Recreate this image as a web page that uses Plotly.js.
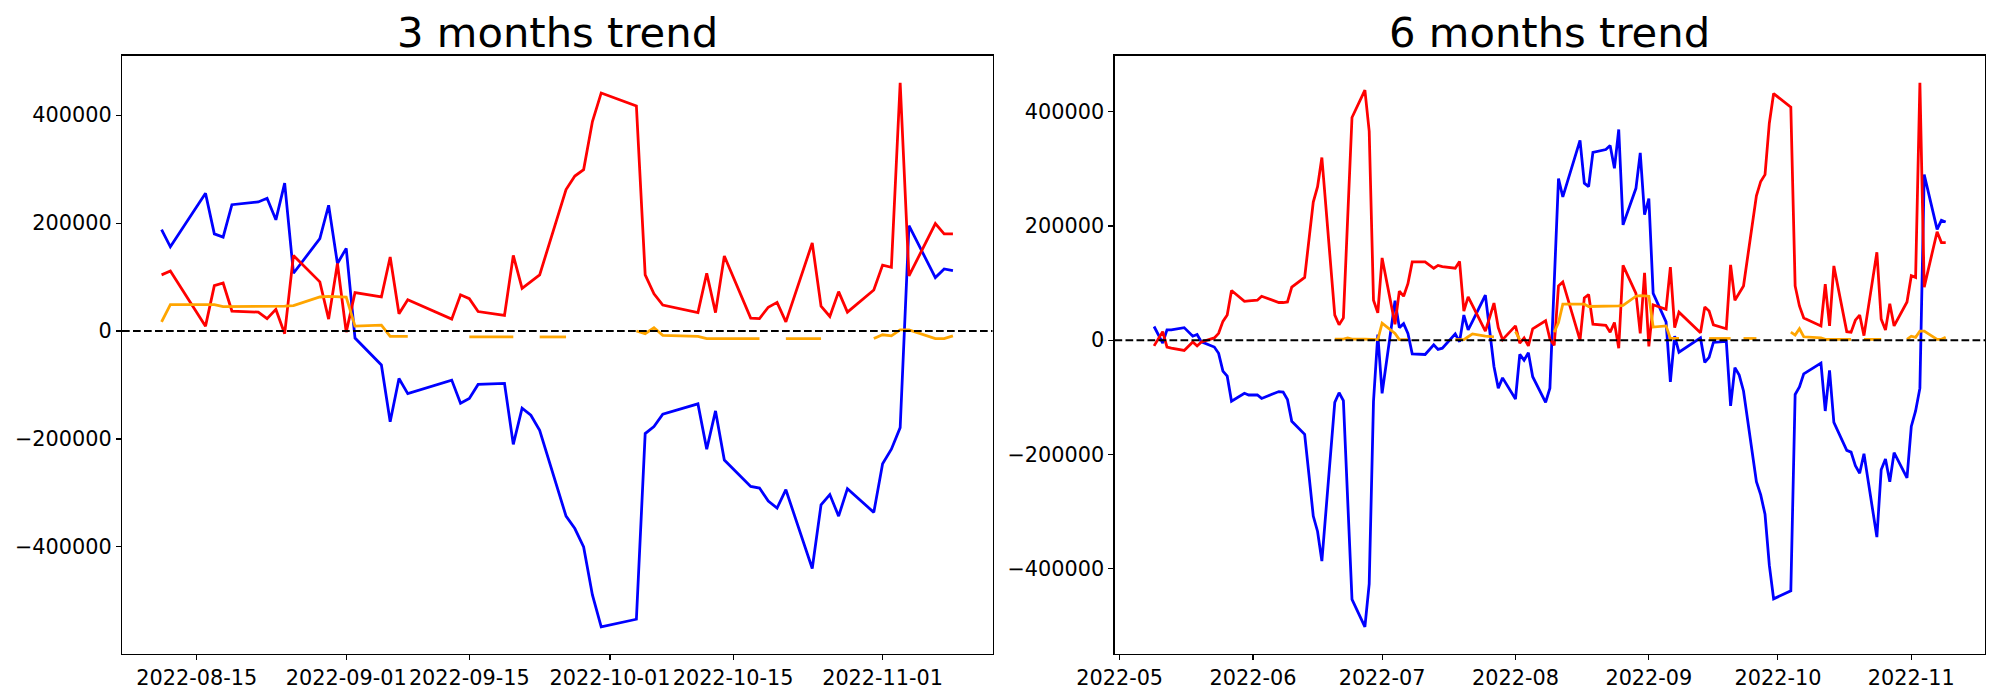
<!DOCTYPE html>
<html><head><meta charset="utf-8">
<script src="https://cdn.plot.ly/plotly-3.0.1.min.js"></script>
<style>html,body{margin:0;padding:0;background:#fff;} #chart{width:2000px;height:700px;}</style>
</head><body><div id="chart"></div>
<script>
// ---------- 3 months trend ----------
const dates3m = [
'2022-08-11','2022-08-12','2022-08-16','2022-08-17','2022-08-18','2022-08-19','2022-08-22','2022-08-23','2022-08-24','2022-08-25','2022-08-26','2022-08-29','2022-08-30','2022-08-31',
'2022-09-01','2022-09-02','2022-09-05','2022-09-06','2022-09-07','2022-09-08','2022-09-13','2022-09-14','2022-09-15','2022-09-16','2022-09-19','2022-09-20','2022-09-21','2022-09-22','2022-09-23','2022-09-26','2022-09-27','2022-09-28','2022-09-29','2022-09-30',
'2022-10-04','2022-10-05','2022-10-06','2022-10-07','2022-10-11','2022-10-12','2022-10-13','2022-10-14','2022-10-17','2022-10-18','2022-10-19','2022-10-20','2022-10-21','2022-10-24','2022-10-25','2022-10-26','2022-10-27','2022-10-28','2022-10-31',
'2022-11-01','2022-11-02','2022-11-03','2022-11-04','2022-11-07','2022-11-08','2022-11-09'];
const blue3m = [
188000,156000,255000,180000,174000,234000,239000,246000,206000,274000,107000,171000,233000,125000,
153000,-13000,-63000,-168000,-88000,-116000,-91000,-134000,-125000,-99000,-97000,-210000,-143000,-156000,-184000,-343000,-366000,-400000,-489000,-548000,
-534000,-190000,-177000,-154000,-135000,-219000,-148000,-239000,-288000,-291000,-315000,-328000,-294000,-440000,-322000,-303000,-343000,-292000,-336000,
-246000,-219000,-179000,195000,99000,115000,112000];
const red3m = [
104000,111000,9000,84000,89000,37000,35000,23000,40000,-5000,140000,91000,22000,125000,
-2000,71000,63000,137000,32000,58000,22000,67000,60000,36000,29000,140000,79000,91000,104000,262000,287000,299000,388000,441000,
417000,104000,69000,48000,34000,107000,34000,139000,24000,23000,44000,53000,17000,163000,46000,27000,73000,35000,76000,
122000,118000,460000,102000,199000,180000,180000];
const orange3m = [
17000,49000,49000,49000,45000,45000,45000,45000,45000,46000,47000,63000,64000,64000,
63000,9000,11000,-10000,-10000,-10000,null,null,-11000,-11000,-11000,-11000,null,null,-11000,-11000,null,null,null,null,
0,-5000,6000,-8000,-10000,-14000,-14000,-14000,-14000,-14000,null,null,-14000,-14000,-14000,null,null,null,-14000,
-7000,-9000,2000,2000,-14000,-14000,-9000];

// ---------- 6 months trend ----------
const dates6m = [
'2022-05-09','2022-05-10','2022-05-11','2022-05-12','2022-05-13','2022-05-16','2022-05-17','2022-05-18','2022-05-19','2022-05-20','2022-05-23','2022-05-24','2022-05-25','2022-05-26','2022-05-27','2022-05-30','2022-05-31',
'2022-06-02','2022-06-03','2022-06-07','2022-06-08','2022-06-09','2022-06-10','2022-06-13','2022-06-14','2022-06-15','2022-06-16','2022-06-17','2022-06-20','2022-06-21','2022-06-22','2022-06-23','2022-06-24','2022-06-27','2022-06-28','2022-06-29','2022-06-30',
'2022-07-01','2022-07-04','2022-07-05','2022-07-06','2022-07-07','2022-07-08','2022-07-11','2022-07-12','2022-07-13','2022-07-14','2022-07-15','2022-07-18','2022-07-19','2022-07-20','2022-07-21','2022-07-22','2022-07-25','2022-07-26','2022-07-27','2022-07-28','2022-07-29',
'2022-08-01','2022-08-02','2022-08-03','2022-08-04','2022-08-05','2022-08-08','2022-08-09','2022-08-10','2022-08-11','2022-08-12','2022-08-16','2022-08-17','2022-08-18','2022-08-19','2022-08-22','2022-08-23','2022-08-24','2022-08-25','2022-08-26','2022-08-29','2022-08-30','2022-08-31',
'2022-09-01','2022-09-02','2022-09-05','2022-09-06','2022-09-07','2022-09-08','2022-09-13','2022-09-14','2022-09-15','2022-09-16','2022-09-19','2022-09-20','2022-09-21','2022-09-22','2022-09-23','2022-09-26','2022-09-27','2022-09-28','2022-09-29','2022-09-30',
'2022-10-04','2022-10-05','2022-10-06','2022-10-07','2022-10-11','2022-10-12','2022-10-13','2022-10-14','2022-10-17','2022-10-18','2022-10-19','2022-10-20','2022-10-21','2022-10-24','2022-10-25','2022-10-26','2022-10-27','2022-10-28','2022-10-31',
'2022-11-01','2022-11-02','2022-11-03','2022-11-04','2022-11-07','2022-11-08','2022-11-09'];
const blue6m = [
24000,9000,-5000,18000,18000,22000,14000,7000,10000,-3000,-12000,-23000,-54000,-63000,-107000,-93000,-96000,
-96000,-102000,-90000,-91000,-104000,-142000,-165000,-236000,-308000,-335000,-387000,-109000,-92000,-106000,-280000,-454000,-502000,-427000,-107000,10000,
-93000,69000,22000,29000,12000,-24000,-25000,-17000,-8000,-16000,-14000,11000,-3000,44000,18000,33000,79000,17000,-46000,-84000,-66000,
-103000,-25000,-35000,-22000,-64000,-109000,-84000,95000,283000,251000,350000,275000,269000,329000,334000,341000,301000,369000,202000,266000,328000,220000,
248000,82000,32000,-73000,7000,-21000,4000,-39000,-30000,-4000,-2000,-115000,-48000,-61000,-89000,-248000,-271000,-305000,-394000,-453000,
-439000,-95000,-82000,-59000,-40000,-124000,-53000,-144000,-193000,-196000,-220000,-233000,-199000,-345000,-227000,-208000,-248000,-197000,-241000,
-151000,-124000,-84000,290000,194000,210000,207000];
const red6m = [
-10000,3000,15000,-12000,-14000,-18000,-10000,-3000,-10000,-3000,4000,12000,33000,44000,87000,68000,69000,
70000,77000,66000,66000,67000,93000,110000,176000,242000,269000,320000,44000,27000,39000,215000,390000,438000,366000,70000,48000,
144000,28000,86000,77000,99000,137000,137000,131000,126000,131000,129000,126000,138000,51000,76000,61000,16000,40000,65000,22000,1000,
25000,-5000,4000,-10000,20000,34000,2000,-9000,95000,102000,0,74000,80000,28000,26000,14000,31000,-14000,131000,82000,12000,118000,
-11000,62000,54000,128000,22000,49000,13000,58000,51000,27000,20000,132000,70000,82000,95000,253000,278000,290000,380000,432000,
408000,95000,60000,39000,25000,98000,25000,130000,15000,14000,35000,44000,8000,154000,37000,18000,64000,25000,67000,
113000,110000,451000,93000,190000,171000,171000];
const orange6m = [
null,null,null,null,null,null,null,null,null,null,null,null,null,null,null,null,null,
null,null,null,null,null,null,null,null,null,null,null,2000,2000,2000,4000,2000,2000,2000,1000,1000,
30000,12000,1000,1000,1000,null,null,null,null,null,null,1000,1000,1000,6000,11000,7000,7000,6000,null,null,
15000,1000,null,null,null,null,null,14000,31000,63000,63000,63000,59000,59000,59000,59000,59000,60000,61000,77000,78000,78000,
77000,23000,25000,3000,3000,3000,null,null,3000,3000,3000,3000,null,null,3000,3000,null,null,null,null,
14000,9000,20000,6000,4000,1500,1500,1500,1500,1500,null,null,1500,1500,1500,null,null,null,1500,
7000,5000,16000,16000,1500,1500,5000];

// ---------- ticks & titles ----------
const xTicks3m = ['2022-08-15','2022-09-01','2022-09-15','2022-10-01','2022-10-15','2022-11-01'];
const xTickText3m = ['2022-08-15','2022-09-01','2022-09-15','2022-10-01','2022-10-15','2022-11-01'];
const xTicks6m = ['2022-05-01','2022-06-01','2022-07-01','2022-08-01','2022-09-01','2022-10-01','2022-11-01'];
const xTickText6m = ['2022-05','2022-06','2022-07','2022-08','2022-09','2022-10','2022-11'];
const yTicks = [-400000,-200000,0,200000,400000];
const yTickText = ['\u2212400000','\u2212200000','0','200000','400000'];
const titles = ['3 months trend','6 months trend'];
const zeroLevel = 0;

const FONT = '"DejaVu Sans", sans-serif';
const LW = 2.78;
function tr(x, y, color, xa, ya) {
  return {type:'scatter', mode:'lines', x:x, y:y, xaxis:xa, yaxis:ya,
    line:{color:color, width:LW}, connectgaps:false, hoverinfo:'skip', showlegend:false};
}
const data = [
  tr(dates3m, blue3m, 'blue', 'x', 'y'),
  tr(dates3m, red3m, 'red', 'x', 'y'),
  tr(dates3m, orange3m, 'orange', 'x', 'y'),
  tr(dates6m, blue6m, 'blue', 'x2', 'y2'),
  tr(dates6m, red6m, 'red', 'x2', 'y2'),
  tr(dates6m, orange6m, 'orange', 'x2', 'y2')
];
const ax = {showline:true, mirror:true, linecolor:'black', linewidth:1.1, ticks:'outside', ticklen:5,
  tickwidth:1.1, tickcolor:'black', showgrid:false, zeroline:false,
  tickfont:{family:FONT, size:20.8, color:'black'}};
const ydom = [1-654/700, 1-55.5/700];
const d1 = [122/2000, 992.5/2000], d2 = [1114.5/2000, 1985.3/2000];
const titleY = 1 - 32.6/700;
const layout = {
  width:2000, height:700, margin:{l:0,r:0,t:0,b:0}, paper_bgcolor:'white', plot_bgcolor:'white', showlegend:false,
  xaxis: Object.assign({}, ax, {type:'date', domain:d1, range:['2022-08-06 12:00','2022-11-13 12:00'], tickmode:'array', tickvals:xTicks3m, ticktext:xTickText3m, anchor:'y'}),
  yaxis: Object.assign({}, ax, {domain:ydom, range:[-598400,510400], tickmode:'array', tickvals:yTicks, ticktext:yTickText, anchor:'x'}),
  xaxis2: Object.assign({}, ax, {type:'date', domain:d2, range:['2022-04-29 19:12','2022-11-18 04:48'], tickmode:'array', tickvals:xTicks6m, ticktext:xTickText6m, anchor:'y2'}),
  yaxis2: Object.assign({}, ax, {domain:ydom, range:[-549650,498650], tickmode:'array', tickvals:yTicks, ticktext:yTickText, anchor:'x2'}),
  shapes: [
    {type:'line', xref:'x domain', yref:'y', x0:0, x1:1, y0:zeroLevel, y1:zeroLevel, layer:'above', line:{color:'black', width:2.08, dash:'7.7px,3.3px'}},
    {type:'line', xref:'x2 domain', yref:'y2', x0:0, x1:1, y0:zeroLevel, y1:zeroLevel, layer:'above', line:{color:'black', width:2.08, dash:'7.7px,3.3px'}}
  ],
  annotations: [
    {text:titles[0], xref:'paper', yref:'paper', x:(d1[0]+d1[1])/2, y:titleY, xanchor:'center', yanchor:'middle', showarrow:false, font:{family:FONT, size:41.7, color:'black'}},
    {text:titles[1], xref:'paper', yref:'paper', x:(d2[0]+d2[1])/2, y:titleY, xanchor:'center', yanchor:'middle', showarrow:false, font:{family:FONT, size:41.7, color:'black'}}
  ]
};
Plotly.newPlot('chart', data, layout, {staticPlot:true, displayModeBar:false});
</script>
</body></html>
